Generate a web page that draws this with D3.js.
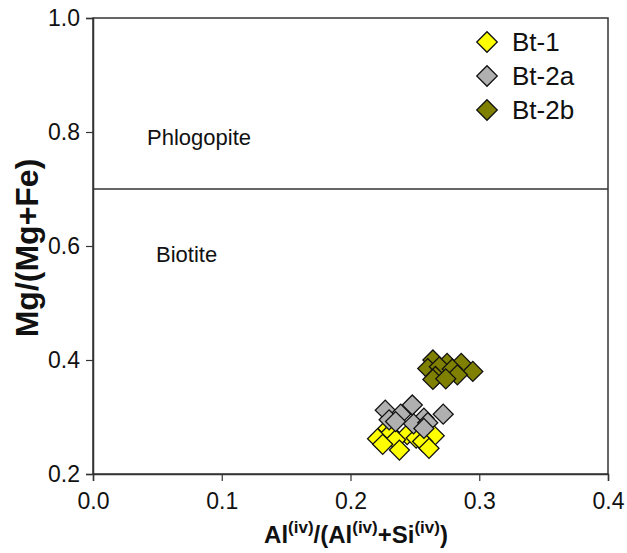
<!DOCTYPE html>
<html lang="en">
<head>
  <meta charset="UTF-8">
  <title>Mg/(Mg+Fe) vs Al(iv)</title>
  <script src="https://d3js.org/d3.v7.min.js"></script>
  <style>
    body { margin: 0; background: #fff; }
    text { font-family: "Liberation Sans", Arial, sans-serif; }
  </style>
</head>
<body>
  <script>
    // data
    const seriesNames = ["Bt-1", "Bt-2a", "Bt-2b"];
    const seriesColors = ["#ffff00", "#b0b0b0", "#808000"];

    const bt1 = [
      [0.229, 0.280], [0.231, 0.271], [0.244, 0.269], [0.221, 0.262], [0.235, 0.260],
      [0.251, 0.263], [0.225, 0.252], [0.265, 0.267], [0.256, 0.257], [0.238, 0.242],
      [0.261, 0.245]
    ];
    const bt2a = [
      [0.227, 0.312], [0.248, 0.321], [0.239, 0.305], [0.272, 0.305], [0.257, 0.298],
      [0.230, 0.295], [0.235, 0.292], [0.249, 0.288], [0.260, 0.290], [0.257, 0.280]
    ];
    const bt2b = [
      [0.264, 0.400], [0.275, 0.394], [0.286, 0.394], [0.260, 0.385], [0.269, 0.388],
      [0.279, 0.384], [0.295, 0.380], [0.283, 0.374], [0.266, 0.371], [0.264, 0.366],
      [0.274, 0.367]
    ];
    const seriesData = [bt1, bt2a, bt2b];

    const xTicks = [0.0, 0.1, 0.2, 0.3, 0.4];
    const yTicks = [0.2, 0.4, 0.6, 0.8, 1.0];
    const boundary = 0.7;

    const width = 627, height = 553;
    const margin = {top: 18, right: 19, bottom: 79, left: 93};

    const svg = d3.select("body").append("svg")
      .attr("width", width)
      .attr("height", height);

    const x = d3.scaleLinear().domain([0, 0.4]).range([margin.left, width - margin.right]);
    const y = d3.scaleLinear().domain([0.2, 1.0]).range([height - margin.bottom, margin.top]);

    // frame
    svg.append("rect")
      .attr("x", x(0))
      .attr("y", y(1))
      .attr("width", x(0.4) - x(0))
      .attr("height", y(0.2) - y(1))
      .attr("fill", "none")
      .attr("stroke", "#333")
      .attr("stroke-width", 1.5);

    // phlogopite / biotite boundary
    svg.append("line")
      .attr("x1", x(0)).attr("x2", x(0.4))
      .attr("y1", y(boundary)).attr("y2", y(boundary))
      .attr("stroke", "#333")
      .attr("stroke-width", 1.5);

    const xAxis = svg.append("g")
      .attr("transform", `translate(0,${y(0.2)})`)
      .call(d3.axisBottom(x).tickValues(xTicks).tickFormat(d3.format(".1f")).tickSize(7).tickPadding(12));
    const yAxis = svg.append("g")
      .attr("transform", `translate(${x(0)},0)`)
      .call(d3.axisLeft(y).tickValues(yTicks).tickFormat(d3.format(".1f")).tickSize(7).tickPadding(6));

    [xAxis, yAxis].forEach(g => {
      g.select(".domain").attr("stroke", "#333").attr("stroke-width", 1.5);
      g.selectAll(".tick line").attr("stroke", "#333").attr("stroke-width", 1.2);
      g.selectAll(".tick text")
        .attr("fill", "#111")
        .style("font-size", "23px")
        .style("font-family", "'Liberation Sans', Arial, sans-serif");
    });

    // field labels
    svg.append("text")
      .attr("x", 147).attr("y", 145)
      .style("font-size", "22px")
      .attr("fill", "#111")
      .text("Phlogopite");
    svg.append("text")
      .attr("x", 156).attr("y", 262)
      .style("font-size", "22px")
      .attr("fill", "#111")
      .text("Biotite");

    // axis titles
    const xt = svg.append("text")
      .attr("x", 356).attr("y", 543)
      .attr("text-anchor", "middle")
      .style("font-size", "24px")
      .style("font-weight", "bold")
      .attr("fill", "#111");
    xt.append("tspan").text("Al");
    xt.append("tspan").attr("dy", -10).style("font-size", "17px").text("(iv)");
    xt.append("tspan").attr("dy", 10).text("/(Al");
    xt.append("tspan").attr("dy", -10).style("font-size", "17px").text("(iv)");
    xt.append("tspan").attr("dy", 10).text("+Si");
    xt.append("tspan").attr("dy", -10).style("font-size", "17px").text("(iv)");
    xt.append("tspan").attr("dy", 10).text(")");

    svg.append("text")
      .attr("transform", `translate(38,248) rotate(-90)`)
      .attr("text-anchor", "middle")
      .style("font-size", "32px")
      .style("font-weight", "bold")
      .attr("fill", "#111")
      .text("Mg/(Mg+Fe)");

    // data points
    const diamond = d3.symbol().type(d3.symbolSquare).size(200);
    seriesData.forEach((pts, i) => {
      svg.append("g").selectAll("path")
        .data(pts)
        .join("path")
        .attr("d", diamond)
        .attr("transform", d => `translate(${x(d[0])},${y(d[1])}) rotate(45)`)
        .attr("fill", seriesColors[i])
        .attr("stroke", "#111")
        .attr("stroke-width", 1.3);
    });

    // legend
    const legend = svg.append("g").attr("transform", "translate(487,42)");
    seriesNames.forEach((name, i) => {
      const row = legend.append("g").attr("transform", `translate(0,${i * 34})`);
      row.append("path")
        .attr("d", d3.symbol().type(d3.symbolSquare).size(210))
        .attr("transform", "rotate(45)")
        .attr("fill", seriesColors[i])
        .attr("stroke", "#111")
        .attr("stroke-width", 1.3);
      row.append("text")
        .attr("x", 25).attr("y", 9)
        .style("font-size", "26px")
        .attr("fill", "#111")
        .text(name);
    });
  </script>
</body>
</html>
